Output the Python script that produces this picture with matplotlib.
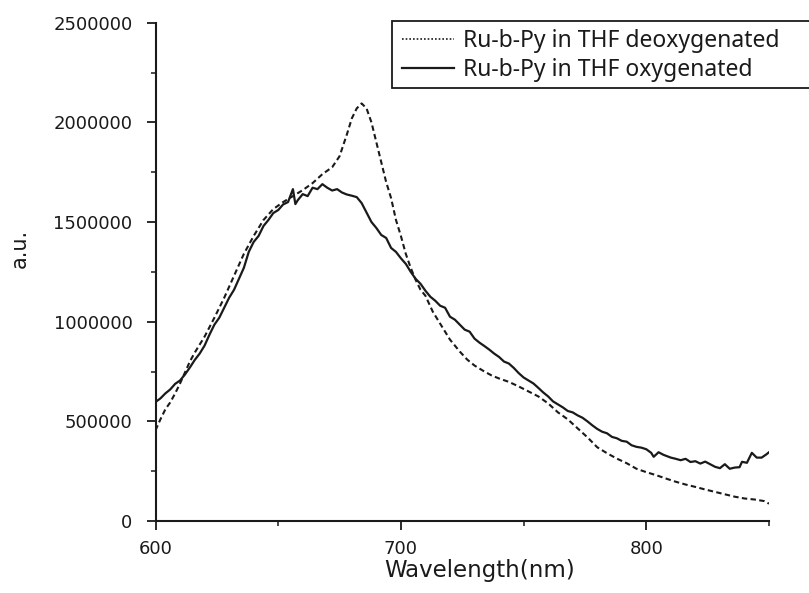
import matplotlib
matplotlib.use("Agg")
import matplotlib.pyplot as plt
from matplotlib.lines import Line2D
from matplotlib.patches import Rectangle
from matplotlib.ticker import MultipleLocator, FuncFormatter

# Deoxygenated (dashed) spectrum
wl_deoxy = [600, 602, 604, 606, 608, 610, 612, 614, 616, 618, 620, 624, 628, 632, 636,
            640, 644, 648, 652, 656, 660, 664, 668, 672, 675, 678, 680, 682, 684, 686,
            688, 690, 692, 694, 696, 698, 700, 702, 704, 706, 708, 710, 713, 716, 720,
            724, 727, 730, 734, 737, 740, 744, 748, 752, 756, 760, 764, 768, 772, 776,
            780, 784, 788, 792, 796, 800, 804, 808, 812, 816, 820, 824, 828, 832, 836,
            840, 844, 848, 850]
val_deoxy = [455000, 510000, 560000, 595000, 640000, 690000, 745000, 800000, 845000, 885000,
             925000, 1020000, 1120000, 1230000, 1340000, 1430000, 1510000, 1565000, 1600000,
             1630000, 1660000, 1695000, 1740000, 1775000, 1830000, 1940000, 2020000, 2070000,
             2095000, 2070000, 2000000, 1900000, 1800000, 1700000, 1620000, 1510000, 1430000,
             1340000, 1270000, 1210000, 1160000, 1130000, 1050000, 990000, 910000, 850000,
             810000, 780000, 750000, 730000, 715000, 698000, 675000, 650000, 625000, 590000,
             545000, 510000, 465000, 420000, 370000, 340000, 313000, 290000, 262000, 245000,
             230000, 213000, 197000, 183000, 171000, 158000, 146000, 134000, 122000, 113000,
             108000, 100000, 87000]

# Oxygenated (solid) spectrum
wl_oxy = [600, 602, 604, 606, 608, 610, 612, 614, 616, 618, 620, 622, 624, 626, 628, 630,
          632, 634, 636, 638, 640, 642, 644, 646, 648, 650, 652, 654, 656, 657, 658, 660,
          662, 664, 666, 668, 670, 672, 674, 676, 678, 680, 682, 684, 686, 688, 690, 692,
          694, 696, 698, 700, 702, 704, 706, 708, 710, 712, 714, 716, 718, 720, 722, 724,
          726, 728, 730, 732, 734, 736, 738, 740, 742, 744, 746, 748, 750, 752, 754, 756,
          758, 760, 762, 764, 766, 768, 770, 772, 774, 776, 778, 780, 782, 784, 786, 788,
          790, 792, 794, 796, 798, 800, 802, 803, 805, 807, 810, 812, 814, 816, 818, 820,
          822, 824, 826, 828, 830, 832, 834, 836, 838, 839, 841, 843, 845, 847, 849, 850]
val_oxy = [597000, 615000, 640000, 660000, 688000, 705000, 735000, 770000, 808000, 840000,
           880000, 935000, 985000, 1020000, 1070000, 1120000, 1160000, 1215000, 1270000,
           1350000, 1400000, 1430000, 1480000, 1510000, 1545000, 1560000, 1588000, 1600000,
           1665000, 1590000, 1610000, 1640000, 1630000, 1672000, 1665000, 1690000, 1672000,
           1658000, 1665000, 1648000, 1638000, 1632000, 1625000, 1595000, 1548000, 1500000,
           1470000, 1435000, 1420000, 1370000, 1350000, 1318000, 1290000, 1250000, 1215000,
           1190000, 1155000, 1125000, 1105000, 1080000, 1070000, 1025000, 1010000, 985000,
           960000, 950000, 915000, 895000, 878000, 860000, 840000, 823000, 800000, 790000,
           768000, 742000, 720000, 705000, 690000, 668000, 645000, 625000, 600000, 585000,
           570000, 552000, 545000, 530000, 518000, 500000, 480000, 462000, 448000, 440000,
           422000, 415000, 402000, 398000, 380000, 372000, 368000, 360000, 342000, 322000,
           345000, 332000, 318000, 312000, 305000, 312000, 296000, 300000, 288000, 298000,
           285000, 272000, 265000, 285000, 262000, 268000, 270000, 297000, 292000, 342000,
           318000, 318000, 335000, 345000]

labels = ["Ru-b-Py in THF deoxygenated", "Ru-b-Py in THF oxygenated"]
x_major = [600, 700, 800]
y_major = [0, 500000, 1000000, 1500000, 2000000, 2500000]

ink = "#1a1a1a"
W, H = 809, 593
fig = plt.figure(figsize=(W / 100, H / 100), dpi=100)
left, right, bottom, top = 155.5, 769, 521, 22.7
ax = fig.add_axes([left / W, 1 - bottom / H, (right - left) / W, (bottom - top) / H])

ax.plot(wl_deoxy, val_deoxy, color=ink, lw=1.5, linestyle=(0, (2.6, 1.6)))
ax.plot(wl_oxy, val_oxy, color=ink, lw=1.6, linestyle="-")

ax.set_xlim(600, 850)
ax.set_ylim(0, 2500000)
ax.set_xticks(x_major)
ax.set_yticks(y_major)
ax.xaxis.set_minor_locator(MultipleLocator(50))
ax.yaxis.set_minor_locator(MultipleLocator(250000))
ax.yaxis.set_major_formatter(FuncFormatter(lambda v, p: f"{int(round(v))}"))

for s in ["top", "right"]:
    ax.spines[s].set_visible(False)
for s in ["left", "bottom"]:
    ax.spines[s].set_linewidth(1.5)
    ax.spines[s].set_color(ink)

ax.tick_params(which="major", direction="out", length=6.5, width=1.3, color=ink,
               labelsize=13, labelcolor=ink)
ax.tick_params(which="minor", direction="out", length=3.3, width=1.1, color=ink)
ax.tick_params(axis="y", which="major", pad=10)
ax.tick_params(axis="x", which="major", pad=7)

ax.set_xlabel("Wavelength(nm)", fontsize=16.5, color=ink)
ax.xaxis.set_label_coords(0.529, -0.076)
ax.set_ylabel("a.u.", fontsize=15, color=ink)
ax.yaxis.set_label_coords(-0.205, 0.546)

# legend frame extending past the right edge, as in the reference
frame = Rectangle((392 / W, 1 - 88 / H), (830 - 392) / W, (88 - 21) / H,
                  transform=fig.transFigure, facecolor="white", edgecolor=ink,
                  linewidth=1.3, zorder=4)
fig.add_artist(frame)

handles = [Line2D([], [], color=ink, lw=1.2, linestyle=(0, (1, 1.2))),
           Line2D([], [], color=ink, lw=1.6, linestyle="-")]
leg = fig.legend(handles, labels, loc="upper left",
                 bbox_to_anchor=(397 / W, 1 - 24 / H), bbox_transform=fig.transFigure,
                 frameon=False, prop={"family": "Noto Sans", "size": 16.5},
                 handlelength=2.3, handletextpad=0.4, borderpad=0.2,
                 labelspacing=0.22, borderaxespad=0)
leg.set_zorder(5)
for t in leg.get_texts():
    t.set_color(ink)

fig.savefig("out.png", dpi=100)
